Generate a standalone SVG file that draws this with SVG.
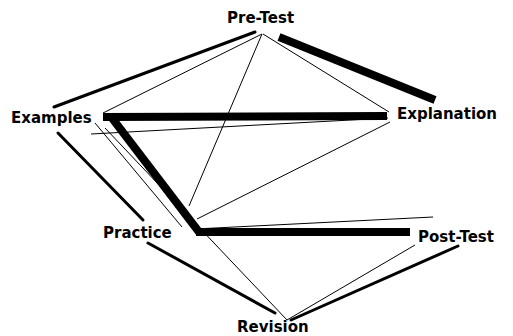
<svg xmlns="http://www.w3.org/2000/svg" width="513" height="336" viewBox="0 0 513 336">
<style>
.lbl{font-family:"DejaVu Sans","Liberation Sans",sans-serif;font-weight:bold;font-size:15px;fill:#000}
.thin{stroke:#000;stroke-width:1;fill:none}
.med{stroke:#000;stroke-width:3;fill:none;stroke-linecap:round}
.thick{stroke:#000;stroke-width:8;fill:none;stroke-linecap:butt}
</style>
<rect width="513" height="336" fill="#fff"/>
<g id="connectors">
<line class="med" x1="54" y1="107" x2="255" y2="32"/>
<line class="med" x1="58" y1="133" x2="143" y2="220"/>
<line class="med" x1="148" y1="243" x2="275" y2="313"/>
<line class="med" x1="458" y1="246" x2="291" y2="320"/>
<line class="thick" x1="279" y1="37" x2="435" y2="100"/>
<line class="thick" x1="103" y1="117" x2="387" y2="116"/>
<line class="thick" x1="112" y1="118" x2="199" y2="232"/>
<line class="thick" x1="196" y1="232" x2="410" y2="232"/>
<line class="thin" x1="103" y1="113" x2="262" y2="34"/>
<line class="thin" x1="262" y1="34" x2="189" y2="206"/>
<line class="thin" x1="263" y1="34" x2="389" y2="112"/>
<line class="thin" x1="91" y1="134" x2="388" y2="118"/>
<line class="thin" x1="390" y1="122" x2="197" y2="219"/>
<line class="thin" x1="195" y1="229" x2="433" y2="217"/>
<line class="thin" x1="95" y1="123" x2="182" y2="227"/>
<line class="thin" x1="105" y1="128" x2="287" y2="320"/>
<line class="thin" x1="415" y1="245" x2="287" y2="320"/>
</g>
<g id="pre-test"><text class="lbl" x="227" y="23">Pre-Test</text></g>
<g id="examples"><text class="lbl" x="11" y="123">Examples</text></g>
<g id="explanation"><text class="lbl" x="397" y="119">Explanation</text></g>
<g id="practice"><text class="lbl" x="103" y="238">Practice</text></g>
<g id="post-test"><text class="lbl" x="418" y="242">Post-Test</text></g>
<g id="revision"><text class="lbl" x="237" y="332">Revision</text></g>
</svg>
